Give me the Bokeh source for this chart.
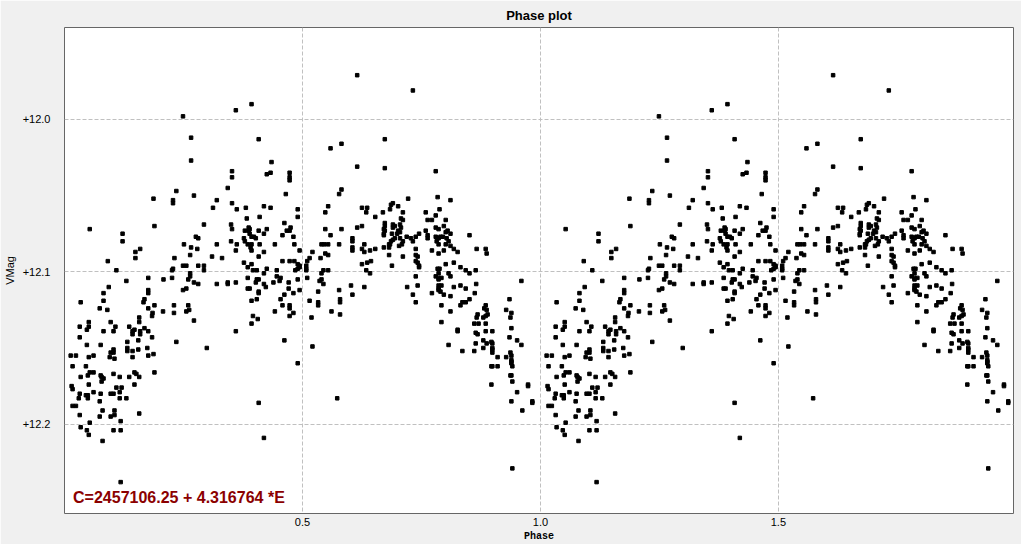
import numpy as np
from bokeh.plotting import figure
from bokeh.models import Range1d, FixedTicker, PrintfTickFormatter, Label, ColumnDataSource
from bokeh.embed import file_html
from bokeh.resources import INLINE

phase = [
    0.249, 0.266, 0.266, 0.235, 0.272, 0.187, 0.228, 0.228, 0.320, 0.312,
    0.053, 0.189, 0.293, 0.122, 0.122, 0.276, 0.281, 0.251, 0.266, 0.279,
    0.320, 0.159, 0.149, 0.149, 0.231, 0.264, 0.310, 0.331, 0.091, 0.249,
    0.256, 0.281, 0.293, 0.228, 0.293, 0.109, 0.226,
    0.615, 0.393, 0.360, 0.408, 0.582, 0.559, 0.435, 0.615, 0.352, 0.352,
    0.433, 0.425, 0.473, 0.473, 0.473, 0.343, 0.582, 0.577, 0.465, 0.352,
    0.381, 0.419, 0.433, 0.362, 0.490, 0.554, 0.548, 0.625, 0.636, 0.634,
    0.383, 0.410, 0.490, 0.653, 0.350, 0.352, 0.387, 0.389, 0.387, 0.379,
    0.408, 0.425, 0.419, 0.462, 0.475, 0.467, 0.473, 0.458, 0.481, 0.389,
    0.393, 0.398, 0.402, 0.377, 0.379, 0.385, 0.393, 0.350, 0.362, 0.360,
    0.410, 0.391, 0.393, 0.442, 0.483, 0.419, 0.408, 0.494, 0.548, 0.559,
    0.582, 0.540, 0.546, 0.554, 0.548, 0.554, 0.538, 0.521, 0.515, 0.577,
    0.605, 0.605, 0.605, 0.605, 0.625, 0.630, 0.630, 0.642, 0.653, 0.615,
    0.625, 0.377, 0.393, 0.385, 0.396, 0.404, 0.425, 0.446, 0.458, 0.473,
    0.483, 0.490, 0.494, 0.494, 0.490, 0.485, 0.510, 0.508, 0.508, 0.508,
    0.544, 0.554, 0.625, 0.636, 0.644, 0.634,
    0.732, 0.673, 0.673, 0.780, 0.722, 0.784, 0.811, 0.686, 0.690, 0.701,
    0.684, 0.669, 0.711, 0.759, 0.788, 0.780, 0.707, 0.711, 0.763, 0.772,
    0.801, 0.673, 0.673, 0.690, 0.694, 0.690, 0.705, 0.707, 0.671, 0.673,
    0.671, 0.671, 0.701, 0.705, 0.699, 0.688, 0.759, 0.780, 0.786, 0.797,
    0.805, 0.801, 0.811, 0.745, 0.738, 0.719, 0.728, 0.732, 0.763, 0.763,
    0.780, 0.786, 0.790, 0.795, 0.803, 0.807, 0.782, 0.786, 0.801, 0.694,
    0.690, 0.686, 0.682, 0.705, 0.711, 0.709, 0.671, 0.682, 0.684, 0.703,
    0.811, 0.818, 0.826, 0.797, 0.772, 0.786, 0.738, 0.682, 0.711, 0.738,
    0.742, 0.738, 0.742, 0.745, 0.745, 0.688, 0.801, 0.818, 0.832, 0.843,
    0.864, 0.851, 0.866, 0.885, 0.887, 0.784, 0.788,
    0.264, 0.264, 0.260, 0.176, 0.208, 0.226, 0.130, 0.272, 0.281, 0.320,
    0.093, 0.256, 0.249, 0.176, 0.176, 0.082, 0.168, 0.166, 0.034, 0.082,
    0.176, 0.189, 0.230, 0.230, 0.260, 0.262, 0.256, 0.074, 0.090, 0.207,
    0.185, 0.184, 0.157, 0.272, 0.097, 0.157, 0.051, 0.051, 0.047, 0.032,
    0.107, 0.136, 0.168, 0.147, 0.143, 0.143, 0.159, 0.159, 0.176, 0.082,
    0.103, 0.032, 0.184, 0.155, 0.132, 0.047, 0.076, 0.235, 0.299, 0.174,
    0.155, 0.132, 0.143, 0.132, 0.103, 0.097, 0.103, 0.013, 0.024, 0.051,
    0.061, 0.095, 0.105, 0.143, 0.176, 0.187, 0.017, 0.045, 0.053, 0.061,
    0.049, 0.034, 0.076, 0.078, 0.082, 0.078, 0.103, 0.116, 0.136, 0.147,
    0.151, 0.157, 0.189, 0.051, 0.147, 0.015, 0.017, 0.109, 0.120, 0.032,
    0.061, 0.076, 0.097, 0.103, 0.116, 0.045, 0.049, 0.030, 0.049, 0.116,
    0.130, 0.074, 0.017, 0.024, 0.080, 0.105, 0.032, 0.074, 0.097, 0.105,
    0.157, 0.053, 0.118, 0.034, 0.047, 0.103, 0.118, 0.051, 0.080, 0.118,
    0.419, 0.446, 0.454, 0.452, 0.540, 0.642, 0.385, 0.404, 0.402, 0.408,
    0.343, 0.343, 0.360, 0.419, 0.423, 0.439, 0.385, 0.389, 0.408, 0.408,
    0.471, 0.471, 0.490, 0.510, 0.536, 0.540, 0.544, 0.494, 0.481, 0.462,
    0.533, 0.577, 0.602, 0.630, 0.605, 0.393, 0.404, 0.454, 0.458, 0.473,
    0.473, 0.481, 0.473, 0.442, 0.515, 0.533, 0.533, 0.579, 0.579, 0.561,
    0.579, 0.396, 0.406, 0.393, 0.519, 0.360, 0.462, 0.521, 0.490, 0.573,
    0.408, 0.419,
    0.738, 0.780, 0.786, 0.786, 0.786, 0.792, 0.807, 0.811, 0.851, 0.720,
    0.742, 0.732, 0.738, 0.772, 0.786, 0.786, 0.790, 0.786, 0.797, 0.792,
    0.818, 0.811, 0.832, 0.843, 0.865, 0.862, 0.960, 0.851, 0.843, 0.836,
    0.832, 0.792, 0.811, 0.792, 0.885, 0.882, 0.887, 0.889, 0.885, 0.880,
    0.868, 0.866, 0.861, 0.870, 0.885, 0.935, 0.928, 0.939, 0.937, 0.826,
    0.826, 0.864, 0.868, 0.885, 0.899, 0.939, 0.935, 0.951, 0.960, 0.807,
    0.864, 0.880, 0.887, 0.880, 0.897, 0.899, 0.899, 0.899, 0.899, 0.836,
    0.861, 0.910, 0.928, 0.937, 0.939, 0.939, 0.939, 0.941, 0.939, 0.897,
    0.899, 0.910, 0.937, 0.939, 0.941, 0.897, 0.974, 0.974, 0.951, 0.939,
    0.983, 0.983, 0.962, 0.941,
]
vmag = [
    11.998, 12.012, 12.027, 12.047, 12.050, 12.052, 12.053, 12.055, 12.053, 12.058,
    12.072, 12.070, 12.069, 12.075, 12.080, 12.077, 12.078, 12.082, 12.084, 12.085,
    12.082, 12.085, 12.087, 12.091, 12.091, 12.089, 12.090, 12.091, 12.093, 12.096,
    12.096, 12.096, 12.096, 12.098, 12.099, 12.099, 12.099,
    11.971, 11.990, 11.994, 12.013, 12.016, 12.019, 12.028, 12.031, 12.034, 12.038,
    12.035, 12.036, 12.035, 12.038, 12.040, 12.045, 12.046, 12.049, 12.049, 12.055,
    12.058, 12.057, 12.058, 12.059, 12.059, 12.057, 12.061, 12.058, 12.058, 12.061,
    12.065, 12.064, 12.064, 12.064, 12.069, 12.072, 12.071, 12.072, 12.073, 12.073,
    12.073, 12.072, 12.075, 12.068, 12.071, 12.073, 12.073, 12.076, 12.077, 12.075,
    12.077, 12.077, 12.078, 12.078, 12.080, 12.082, 12.082, 12.080, 12.082, 12.086,
    12.082, 12.084, 12.086, 12.082, 12.082, 12.087, 12.090, 12.086, 12.072, 12.076,
    12.072, 12.082, 12.082, 12.082, 12.088, 12.089, 12.091, 12.087, 12.091, 12.082,
    12.078, 12.080, 12.084, 12.086, 12.085, 12.087, 12.082, 12.086, 12.085, 12.071,
    12.070, 12.094, 12.095, 12.097, 12.099, 12.099, 12.098, 12.099, 12.093, 12.093,
    12.093, 12.095, 12.096, 12.097, 12.098, 12.099, 12.093, 12.096, 12.098, 12.099,
    12.099, 12.099, 12.095, 12.094, 12.093, 12.099,
    11.981, 12.013, 12.032, 12.034, 12.052, 12.051, 12.053, 12.056, 12.055, 12.057,
    12.059, 12.061, 12.061, 12.061, 12.059, 12.063, 12.065, 12.066, 12.066, 12.066,
    12.066, 12.068, 12.070, 12.069, 12.070, 12.071, 12.069, 12.071, 12.072, 12.073,
    12.075, 12.076, 12.073, 12.074, 12.075, 12.075, 12.073, 12.071, 12.072, 12.070,
    12.073, 12.074, 12.075, 12.075, 12.077, 12.077, 12.078, 12.080, 12.076, 12.078,
    12.077, 12.078, 12.077, 12.077, 12.078, 12.080, 12.080, 12.082, 12.082, 12.078,
    12.079, 12.080, 12.082, 12.078, 12.080, 12.082, 12.084, 12.084, 12.082, 12.083,
    12.083, 12.085, 12.087, 12.086, 12.086, 12.088, 12.085, 12.089, 12.090, 12.089,
    12.090, 12.093, 12.094, 12.096, 12.097, 12.096, 12.095, 12.094, 12.097, 12.099,
    12.099, 12.076, 12.085, 12.085, 12.088, 12.098, 12.098,
    12.101, 12.103, 12.105, 12.104, 12.105, 12.104, 12.106, 12.107, 12.108, 12.108,
    12.110, 12.111, 12.112, 12.112, 12.114, 12.114, 12.118, 12.120, 12.120, 12.119,
    12.124, 12.122, 12.122, 12.127, 12.122, 12.125, 12.126, 12.124, 12.125, 12.126,
    12.127, 12.129, 12.130, 12.132, 12.133, 12.133, 12.133, 12.136, 12.138, 12.136,
    12.136, 12.136, 12.137, 12.138, 12.139, 12.141, 12.139, 12.141, 12.139, 12.139,
    12.139, 12.143, 12.143, 12.145, 12.146, 12.148, 12.148, 12.146, 12.150, 12.150,
    12.151, 12.152, 12.152, 12.150, 12.151, 12.153, 12.153, 12.155, 12.155, 12.156,
    12.155, 12.156, 12.157, 12.156, 12.155, 12.154, 12.162, 12.162, 12.166, 12.166,
    12.168, 12.169, 12.168, 12.169, 12.170, 12.172, 12.167, 12.169, 12.169, 12.166,
    12.167, 12.169, 12.166, 12.174, 12.174, 12.175, 12.177, 12.176, 12.176, 12.180,
    12.179, 12.180, 12.180, 12.180, 12.179, 12.181, 12.181, 12.183, 12.183, 12.183,
    12.183, 12.185, 12.188, 12.188, 12.191, 12.191, 12.194, 12.195, 12.195, 12.194,
    12.193, 12.199, 12.198, 12.202, 12.204, 12.204, 12.204, 12.207, 12.211, 12.238,
    12.101, 12.103, 12.104, 12.106, 12.101, 12.101, 12.104, 12.105, 12.107, 12.105,
    12.107, 12.108, 12.107, 12.108, 12.110, 12.107, 12.111, 12.111, 12.113, 12.114,
    12.107, 12.111, 12.105, 12.104, 12.106, 12.105, 12.108, 12.112, 12.114, 12.115,
    12.113, 12.112, 12.109, 12.110, 12.115, 12.119, 12.118, 12.118, 12.122, 12.122,
    12.124, 12.127, 12.129, 12.126, 12.119, 12.120, 12.122, 12.118, 12.120, 12.126,
    12.128, 12.129, 12.131, 12.134, 12.130, 12.139, 12.145, 12.149, 12.160, 12.183,
    12.186, 12.209,
    12.103, 12.103, 12.101, 12.104, 12.105, 12.104, 12.101, 12.103, 12.101, 12.110,
    12.109, 12.115, 12.120, 12.114, 12.109, 12.111, 12.113, 12.112, 12.115, 12.109,
    12.110, 12.116, 12.109, 12.111, 12.108, 12.114, 12.106, 12.118, 12.120, 12.120,
    12.122, 12.122, 12.126, 12.133, 12.122, 12.124, 12.125, 12.128, 12.129, 12.130,
    12.128, 12.130, 12.134, 12.134, 12.134, 12.118, 12.125, 12.127, 12.130, 12.138,
    12.139, 12.140, 12.141, 12.139, 12.139, 12.137, 12.143, 12.145, 12.148, 12.148,
    12.147, 12.145, 12.147, 12.150, 12.146, 12.147, 12.150, 12.151, 12.153, 12.152,
    12.152, 12.156, 12.156, 12.153, 12.155, 12.158, 12.159, 12.162, 12.160, 12.162,
    12.162, 12.162, 12.168, 12.168, 12.172, 12.174, 12.174, 12.175, 12.179, 12.185,
    12.185, 12.186, 12.191, 12.229,
]

x_ticks = [0.5, 1.0, 1.5]
y_ticks = [12.0, 12.1, 12.2]
title_text = "Phase plot"
ephemeris_text = "C=2457106.25 + 4.316764 *E"

ph = np.array(phase)
mg = np.array(vmag)
# phase plot shows two cycles: phase and phase + 1
src = ColumnDataSource(dict(x=np.concatenate([ph, ph + 1.0]), y=np.concatenate([mg, mg])))

p = figure(width=1021, height=544, output_backend="svg", toolbar_location=None,
           x_range=Range1d(0.0, 1.994), y_range=Range1d(12.2586, 11.9397),
           min_border_left=58, min_border_right=8, min_border_top=27, min_border_bottom=30,
           title=title_text)

p.background_fill_color = "white"
p.border_fill_color = "#f0f0f0"
p.outline_line_color = "#666666"
p.outline_line_width = 1

p.title.align = "center"
p.title.text_font = "Liberation Sans"
p.title.text_font_size = "13px"
p.title.text_font_style = "bold"
p.title.text_color = "black"
p.title.standoff = 10

p.scatter("x", "y", source=src, marker="square", size=3.5, color="black")

for ax in (p.xaxis[0], p.yaxis[0]):
    ax.axis_line_color = None
    ax.major_tick_line_color = None
    ax.minor_tick_line_color = None
    ax.major_tick_out = 0
    ax.major_tick_in = 0
    ax.minor_tick_out = 0
    ax.minor_tick_in = 0
    ax.major_label_text_font = "Liberation Sans"
    ax.major_label_text_font_size = "11px"
    ax.major_label_text_color = "black"
    ax.axis_label_text_color = "black"

p.xaxis.ticker = FixedTicker(ticks=x_ticks)
p.xaxis.formatter = PrintfTickFormatter(format="%.1f")
p.xaxis.axis_label = "Phase"
p.xaxis.axis_label_text_font = "Liberation Mono"
p.xaxis.axis_label_text_font_size = "10px"
p.xaxis.axis_label_text_font_style = "bold"
p.xaxis.axis_label_standoff = 2
p.xaxis.major_label_standoff = 4

p.yaxis.ticker = FixedTicker(ticks=y_ticks)
p.yaxis.formatter = PrintfTickFormatter(format="+%.1f")
p.yaxis.axis_label = "VMag"
p.yaxis.axis_label_text_font = "Liberation Sans"
p.yaxis.axis_label_text_font_size = "11px"
p.yaxis.axis_label_text_font_style = "normal"
p.yaxis.axis_label_standoff = 4
p.yaxis.major_label_standoff = 14

p.grid.grid_line_color = "#c0c0c0"
p.grid.grid_line_dash = "4 2"
p.grid.grid_line_width = 1

p.add_layout(Label(x=0.018, y=12.248, text=ephemeris_text, text_color="#8b0000",
                   text_font="Liberation Sans", text_font_size="16px",
                   text_font_style="bold", text_baseline="middle"))

open("out.html", "w").write(file_html(p, INLINE))
